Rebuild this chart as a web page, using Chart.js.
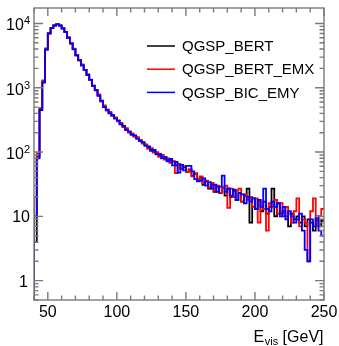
<!DOCTYPE html>
<html>
<head>
<meta charset="utf-8">
<script src="https://cdn.jsdelivr.net/npm/chart.js@4/dist/chart.umd.min.js"></script>
<style>
  html, body { margin: 0; padding: 0; background: #fff; }
  canvas { display: block; }
</style>
</head>
<body>
<canvas id="c" width="339" height="346"></canvas>
<script>
// histogram binning (GeV)
const BIN_LO = 40;
const BIN_W = 2;
const X_MIN = 40, X_MAX = 250;
const Y_MIN = 0.5, Y_MAX = 17400;

const seriesNames = ["QGSP_BERT", "QGSP_BERT_EMX", "QGSP_BIC_EMY"];
const seriesColors = ["#000000", "#ff0000", "#0000ff"];

// entries per bin
const bert = [4,85,450,1250,4000,7000,8500,9300,9700,9300,
  8400,7400,6000,4900,4000,3200,2700,2250,1900,1600,
  1330,1070,930,760,620,510,450,410,370,340,
  305,275,250,225,205,190,180,165,150,140,
  128,118,110,103,96,89,85,80,76,73,
  71,62,65,55,58,49,53,43,46,37,
  40,31,35,27,31,24,29,23,28,21,
  27,20,25,18,23,17,21,27,8,19,
  13,18,12,17,11,14,27,10,16,11,
  12,10,7,11,9,10,8,10,7,9,
  8,6,9,7,8.6];
const bertEmx = [20,95,480,1300,4100,6900,8550,9250,9650,9350,
  8450,7350,6100,4950,4050,3250,2650,2300,1880,1620,
  1310,1090,910,790,610,530,440,420,365,345,
  300,285,245,235,200,195,172,170,155,135,
  132,112,115,98,100,84,90,76,80,68,
  72,47,64,55,60,49,54,42,47,38,
  42,33,36,28,33,25,30,23,28,30,
  13.5,27,20,25,27,17,22,18,20,14,
  19,8,17,13,6,16,14,18,11,16,
  10,14,11,8,12,19,7,9,8,2,
  12,19,7,10,13];
const bicEmy = [10,80,460,1200,3900,7100,8450,9350,9750,9250,
  8350,7400,5950,4850,3950,3200,2700,2220,1900,1580,
  1340,1060,920,750,630,500,455,400,375,330,
  310,270,255,220,210,185,182,160,148,143,
  125,122,104,108,92,94,80,84,72,78,
  62,70,48,63,52,61,61,50,38,35,
  36,39,30,34,27,31,24,29,43,24,
  27,21,26,18,23,22,16,20,17,19,
  13,18,14,27,13,12,17,14,16,10,
  14,9,12,10,8,9,11,6,3,2,
  9,7,10,6,5];

const xMajor = [50, 100, 150, 200, 250];
const xMinorStep = 10;
const yDecades = [1, 10, 100, 1000, 10000];
const yLabels = [["1", ""], ["10", ""], ["10", "2"], ["10", "3"], ["10", "4"]];

function histPoints(vals) {
  const pts = [{ x: BIN_LO, y: Y_MIN }];
  vals.forEach((v, i) => pts.push({ x: BIN_LO + i * BIN_W, y: v }));
  pts.push({ x: BIN_LO + vals.length * BIN_W, y: vals[vals.length - 1] });
  return pts;
}

const FONT = "'Liberation Sans', Arial, sans-serif";

const frame = {
  id: "frame",
  afterDraw(chart) {
    const ctx = chart.ctx;
    const a = chart.chartArea;
    const xs = chart.scales.x, ys = chart.scales.y;
    ctx.save();
    ctx.strokeStyle = "#7a7a7a";
    ctx.lineWidth = 1.4;
    ctx.strokeRect(a.left, a.top, a.right - a.left, a.bottom - a.top);

    ctx.beginPath();
    // x ticks, bottom and top
    for (let v = X_MIN; v <= X_MAX; v += xMinorStep) {
      const px = xs.getPixelForValue(v);
      const len = xMajor.includes(v) ? 8 : 4.5;
      ctx.moveTo(px, a.bottom); ctx.lineTo(px, a.bottom - len);
      ctx.moveTo(px, a.top); ctx.lineTo(px, a.top + len);
    }
    // y ticks, left and right
    for (let d = 0.1; d <= 10000; d *= 10) {
      for (let k = 1; k <= 9; k++) {
        const v = d * k;
        if (v < Y_MIN || v > Y_MAX) continue;
        const py = ys.getPixelForValue(v);
        const len = k === 1 ? 9 : 4.5;
        ctx.moveTo(a.left, py); ctx.lineTo(a.left + len, py);
        ctx.moveTo(a.right, py); ctx.lineTo(a.right - len, py);
      }
    }
    ctx.stroke();

    ctx.fillStyle = "#000";
    // x labels
    ctx.font = "16px " + FONT;
    ctx.textAlign = "center";
    ctx.textBaseline = "alphabetic";
    xMajor.forEach(v => ctx.fillText(String(v), xs.getPixelForValue(v), a.bottom + 17));

    // y labels
    yDecades.forEach((v, i) => {
      const py = ys.getPixelForValue(v);
      const [base, sup] = yLabels[i];
      const right = a.left - 4;
      ctx.textAlign = "right";
      if (sup) {
        ctx.font = "11px " + FONT;
        const sw = ctx.measureText(sup).width;
        ctx.fillText(sup, right, py + 1);
        ctx.font = "16px " + FONT;
        ctx.fillText(base, right - sw, py + 7);
      } else {
        ctx.font = "16px " + FONT;
        ctx.fillText(base, right - (base === "1" ? 2 : 0), py + 6);
      }
    });

    // axis title E_vis [GeV]
    ctx.textAlign = "left";
    const t1 = "E", t3 = " [GeV]";
    ctx.font = "11px " + FONT;
    const wSub = ctx.measureText("vis").width;
    ctx.font = "16px " + FONT;
    const w1 = ctx.measureText(t1).width, w3 = ctx.measureText(t3).width;
    let tx = a.right - 1 - (w1 + wSub + w3);
    ctx.fillText(t1, tx, 342);
    ctx.font = "11px " + FONT;
    ctx.fillText("vis", tx + w1 + 0.5, 345);
    ctx.font = "16px " + FONT;
    ctx.fillText(t3, tx + w1 + wSub + 0.5, 342);

    // legend
    ctx.font = "15px " + FONT;
    ctx.textBaseline = "middle";
    seriesNames.forEach((name, i) => {
      const y = 46 + i * 23.2;
      ctx.strokeStyle = seriesColors[i];
      ctx.lineWidth = 1.5;
      ctx.beginPath();
      ctx.moveTo(147, y); ctx.lineTo(175, y);
      ctx.stroke();
      ctx.fillText(name, 182, y + 1);
    });
    ctx.restore();
  }
};

const allSeries = [bert, bertEmx, bicEmy];

new Chart(document.getElementById("c"), {
  type: "line",
  data: {
    datasets: allSeries.map((vals, i) => ({
      label: seriesNames[i],
      data: histPoints(vals),
      borderColor: seriesColors[i],
      borderWidth: 1.8,
      pointRadius: 0,
      stepped: true,
      fill: false,
      order: 3 - i
    }))
  },
  options: {
    responsive: false,
    animation: false,
    devicePixelRatio: 1,
    layout: { padding: { left: 34, right: 15, top: 8, bottom: 46 } },
    plugins: { legend: { display: false }, tooltip: { enabled: false } },
    scales: {
      x: { type: "linear", min: X_MIN, max: X_MAX, display: false },
      y: { type: "logarithmic", min: Y_MIN, max: Y_MAX, display: false }
    }
  },
  plugins: [frame]
});
</script>
</body>
</html>
